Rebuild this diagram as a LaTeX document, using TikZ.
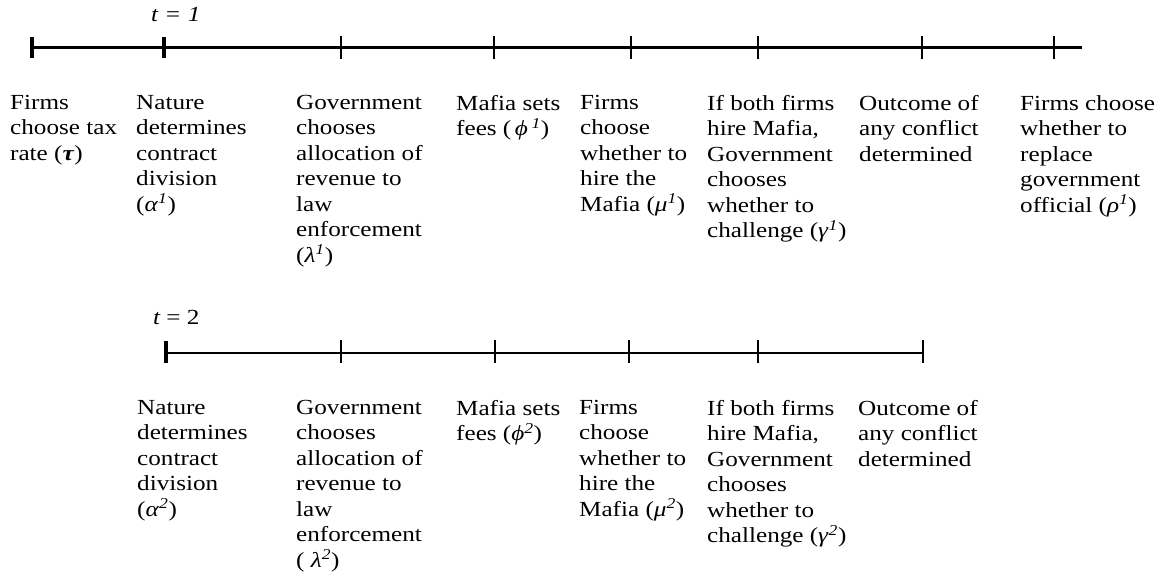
\documentclass[tikz,border=0pt]{standalone}
\usepackage{fontspec}
\setmainfont{Liberation Serif}[FakeStretch=1.17]
\newcommand{\gr}[1]{\textit{#1}}
\newcommand{\sps}[1]{\textsuperscript{\textit{#1}}}
\begin{document}
\begin{tikzpicture}[x=1pt,y=-1pt,
  lbl/.style={anchor=north west, inner sep=0pt, align=left, font=\fontsize{21.5}{25.5}\selectfont},
  tlab/.style={anchor=base west, inner sep=0pt, font=\fontsize{21.5}{25}\selectfont\itshape},
  axis/.style={line width=2.2pt},
  bigtick/.style={line width=4.5pt},
  smalltick/.style={line width=1.4pt}]
\useasboundingbox (0,0) rectangle (1170,581);
% ---- period 1 timeline
\coordinate (A0) at (32,47.5);
\coordinate (A1) at (164,47.5);
\coordinate (A2) at (341,47.5);
\coordinate (A3) at (494,47.5);
\coordinate (A4) at (631,47.5);
\coordinate (A5) at (758,47.5);
\coordinate (A6) at (922,47.5);
\coordinate (A7) at (1054,47.5);
\coordinate (Aend) at (1082,47.5);
\draw[axis] (A0) -- (Aend);
\foreach \p in {A0,A1}{\draw[bigtick] ([yshift=11pt]\p) -- ([yshift=-10pt]\p);}
\foreach \p in {A2,A3,A4,A5,A6,A7}{\draw[smalltick] ([yshift=12pt]\p) -- ([yshift=-11pt]\p);}
\node[tlab] (t1) at (151,21) {t = 1};
% ---- period 2 timeline
\coordinate (B1) at (166,353);
\coordinate (B2) at (341,353);
\coordinate (B3) at (495,353);
\coordinate (B4) at (629,353);
\coordinate (B5) at (758,353);
\coordinate (B6) at (923,353);
\draw[axis] (B1) -- (B6);
\draw[bigtick] ([yshift=12pt]B1) -- ([yshift=-10pt]B1);
\foreach \p in {B2,B3,B4,B5,B6}{\draw[smalltick] ([yshift=13pt]\p) -- ([yshift=-10pt]\p);}
\node[tlab] (t2) at (153,324) {t {\upshape= 2}};
% ---- period 1 labels
\node[lbl] (a0) at (10,95) {Firms\\choose tax\\rate (\textbf{\gr{τ}})};
\node[lbl] (a1) at (136,95) {Nature\\determines\\contract\\division\\(\gr{α}\sps{1})};
\node[lbl] (a2) at (296,95) {Government\\chooses\\allocation of\\revenue to\\law\\enforcement\\(\gr{λ}\sps{1})};
\node[lbl] (a3) at (456,95) {Mafia sets\\fees (\,\gr{ϕ}\,\sps{1})};
\node[lbl] (a4) at (580,95) {Firms\\choose\\whether to\\hire the\\Mafia (\gr{μ}\sps{1})};
\node[lbl] (a5) at (707,95) {If both firms\\hire Mafia,\\Government\\chooses\\whether to\\challenge (\gr{γ}\sps{1})};
\node[lbl] (a6) at (859,95) {Outcome of\\any conflict\\determined};
\node[lbl] (a7) at (1020,95) {Firms choose\\whether to\\replace\\government\\official (\gr{ρ}\sps{1})};
% ---- period 2 labels
\node[lbl] (b1) at (137,400) {Nature\\determines\\contract\\division\\(\gr{α}\sps{2})};
\node[lbl] (b2) at (296,400) {Government\\chooses\\allocation of\\revenue to\\law\\enforcement\\( \gr{λ}\sps{2})};
\node[lbl] (b3) at (456,400) {Mafia sets\\fees (\gr{ϕ}\sps{2})};
\node[lbl] (b4) at (579,400) {Firms\\choose\\whether to\\hire the\\Mafia (\gr{μ}\sps{2})};
\node[lbl] (b5) at (707,400) {If both firms\\hire Mafia,\\Government\\chooses\\whether to\\challenge (\gr{γ}\sps{2})};
\node[lbl] (b6) at (858,400) {Outcome of\\any conflict\\determined};
\end{tikzpicture}
\end{document}
